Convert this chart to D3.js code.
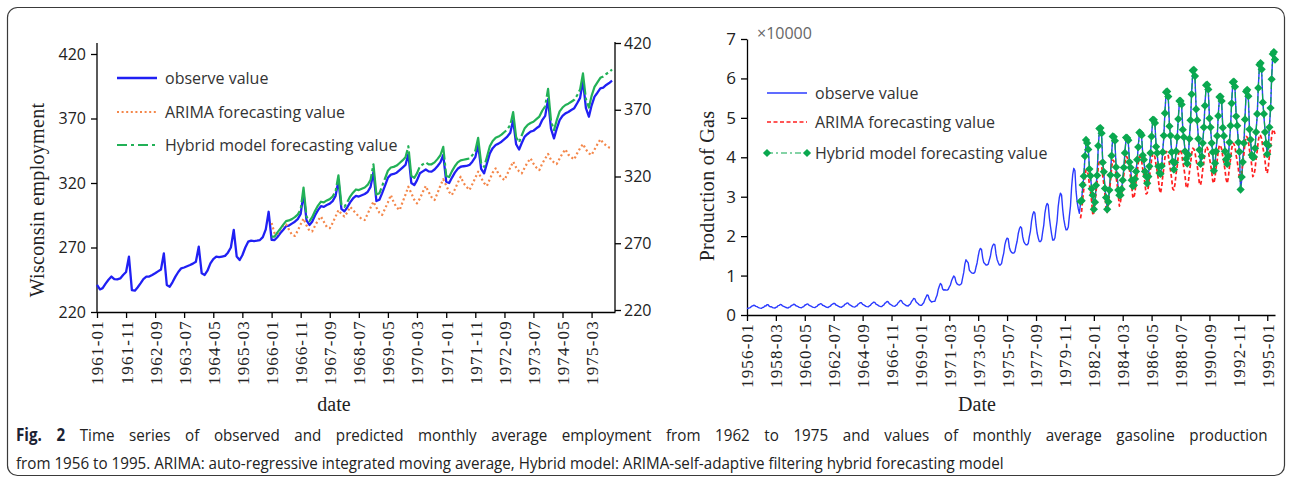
<!DOCTYPE html>
<html>
<head>
<meta charset="utf-8">
<script src="https://cdn.jsdelivr.net/npm/d3@7"></script>
<style>
  body { margin: 0; background: #fff; }
  svg { display: block; }
</style>
</head>
<body>
<svg id="fig" width="1292" height="482"></svg>
<script>
// ---- Wisconsin employment (monthly, from 1961-01) ----
const empStart = "1961-01";
const empObserved = [
  241, 237.5, 238.5, 242, 245, 247.5, 245.5, 245.3, 246, 248.7, 251, 262.9,
  237, 236.5, 239, 242.2, 245.5, 247.4, 247.5, 248.7, 250, 251.5, 253, 265.4,
  241, 239.6, 243, 247.4, 251, 253.9, 254.5, 255.5, 256.4, 257.5, 259, 270.6,
  250, 248.7, 252, 257.7, 261, 262.9, 262.5, 263, 263.5, 266, 270, 283.6,
  263, 260.3, 264, 270, 274.5, 275.3, 275, 275.3, 275.8, 278, 284, 297.7,
  276, 275.8, 278, 281, 283.6, 286.5, 287, 288.5, 290, 292, 296, 312,
  291, 287.5, 290, 295, 299, 302, 301.5, 303, 304, 306, 310, 322,
  300, 298, 301, 305, 308, 310, 309.5, 310.5, 311.5, 313, 317, 328.5,
  306, 307, 312, 318, 324, 326.5, 327, 328, 330, 332, 334, 342.5,
  320, 318.4, 322, 327.5, 329, 330.5, 329, 328.8, 330.5, 333, 336, 341.7,
  321, 320, 324, 328, 331, 332.6, 333, 333.2, 334, 336.5, 340, 349.5,
  331, 327.5, 335, 343, 347, 349.5, 350.5, 352, 354, 356, 359, 368.8,
  350, 346, 351, 356, 358, 359.8, 360.5, 362.4, 364, 368.8, 372, 384.9,
  362, 354.6, 362, 368.8, 372, 374, 375, 376.6, 378, 381.8, 386, 399.3,
  378, 371.4, 380, 387, 390, 393.4, 394, 396, 397.5, 399.3
];
const empFcStart = "1966-01";
const empArima = [
  289, 281, 280, 284, 287, 288, 284, 280, 279, 283, 288, 292.5,
  287, 283, 282.5, 287, 291, 294, 290, 286, 285, 289, 294, 299,
  296, 294, 297, 301.5, 299, 296.5, 294, 292, 291.3, 296, 301, 305.5,
  301, 297, 295.2, 300, 305, 310.7, 305, 301, 299, 305, 311, 317.1,
  312, 307, 304.2, 308, 313, 317.7, 313, 309, 306.8, 312, 318, 322.9,
  318, 313, 310.7, 315, 320, 324.9, 320, 317, 314.6, 319, 324, 328.8,
  324, 320, 317.7, 323, 328, 331.4, 327, 324, 322.3, 327, 332, 336.5,
  332, 329, 327.5, 332, 336, 339.1, 335, 332, 330, 335, 339, 342.5,
  338, 336, 334.7, 339, 343, 346.1, 342, 340, 338.3, 343, 347, 350.2,
  346, 343, 341.7, 346, 350, 353.9, 351, 349, 347.5, 346.9
];
const empHybrid = [
  278.5, 278.5, 281.5, 284.5, 287.5, 290.5, 291, 292, 293.5, 295.5, 299.5, 316.5,
  294, 290.5, 293.5, 298.5, 302.5, 305.5, 305, 306.5, 307.5, 309.5, 313.5, 326,
  303.5, 301.5, 305, 309.5, 312.5, 315, 314.5, 315.5, 316.5, 318.5, 322.5, 334.5,
  311, 312, 317.5, 323.5, 329.5, 332, 332.5, 333.5, 335.5, 337.5, 340, 348.5,
  325.5, 324, 327.5, 333, 334.5, 336, 334.5, 334.5, 336, 338.5, 341.5, 348,
  325.5, 324.6, 329, 333, 336, 337.5, 338, 338.5, 339, 341.5, 345, 355,
  335.5, 332.5, 340, 348.5, 352.5, 355, 356, 357.5, 359.5, 361.5, 365, 375,
  355.5, 351.5, 357, 362.5, 365, 366.5, 367.5, 369.5, 371.5, 376, 379.5, 393,
  368, 361, 368.5, 375.5, 378.5, 380.5, 381.5, 383, 384.5, 388, 392.5, 405,
  385, 378.5, 387.5, 394.5, 398, 401.5, 402.5, 404.5, 406, 408
];
const empXTicks = ["1961-01", "1961-11", "1962-09", "1963-07", "1964-05", "1965-03",
  "1966-01", "1966-11", "1967-09", "1968-07", "1969-05", "1970-03", "1971-01",
  "1971-11", "1972-09", "1973-07", "1974-05", "1975-03"];
const empYTicks = [220, 270, 320, 370, 420];

// ---- Gas production (monthly, from 1956-01) ----
const gasStart = "1956-01";
const gasObserved = [
  1709, 1646, 1794, 1878, 2173, 2321, 2468, 2416, 2184, 2121, 1962, 1825,
  1751, 1688, 1920, 1941, 2311, 2279, 2638, 2601, 2226, 2080, 2097, 1875,
  1800, 1760, 1950, 2030, 2380, 2450, 2660, 2620, 2300, 2190, 2080, 1900,
  1830, 1790, 1990, 2080, 2420, 2520, 2720, 2680, 2350, 2240, 2120, 1950,
  1870, 1830, 2030, 2120, 2470, 2600, 2800, 2760, 2420, 2300, 2170, 2000,
  1920, 1870, 2080, 2180, 2540, 2660, 2870, 2830, 2470, 2360, 2220, 2040,
  1960, 1910, 2130, 2230, 2600, 2750, 2960, 2910, 2540, 2420, 2270, 2090,
  2010, 1960, 2180, 2290, 2680, 2830, 3040, 3000, 2610, 2480, 2330, 2140,
  2060, 2010, 2240, 2350, 2760, 2920, 3150, 3100, 2690, 2550, 2390, 2190,
  2110, 2060, 2300, 2420, 2850, 3020, 3260, 3200, 2770, 2620, 2450, 2250,
  2170, 2120, 2370, 2500, 2950, 3150, 3420, 3350, 2880, 2710, 2530, 2320,
  2240, 2200, 2460, 2610, 3110, 3360, 3700, 3620, 3060, 2850, 2650, 2420,
  2330, 2290, 2580, 2790, 3400, 3780, 4200, 4100, 3380, 3090, 2840, 2560,
  2480, 2450, 2800, 3100, 3900, 4500, 5100, 4950, 4000, 3600, 3300, 3400,
  3450, 3500, 4300, 5000, 6400, 7300, 8000, 7700, 6600, 6300, 6400, 6300,
  6300, 6500, 7100, 7600, 8600, 9300, 9900, 9600, 8400, 7900, 7700, 7600,
  7700, 8000, 9400, 10800, 12900, 14000, 13600, 13200, 11400, 11000, 10700, 10600,
  10600, 10900, 12100, 13200, 14900, 16300, 16900, 16600, 14500, 13300, 13000, 12700,
  12700, 12900, 13900, 14900, 16600, 17600, 18000, 17800, 15500, 14100, 13300, 12700,
  12700, 13100, 14500, 15700, 17800, 18900, 19500, 19300, 17200, 16300, 15900, 15700,
  15700, 16100, 17500, 18700, 20600, 21800, 22400, 22100, 19800, 18600, 18100, 17800,
  17800, 18200, 19900, 21300, 23800, 25400, 26200, 25800, 22900, 20800, 19500, 18600,
  18600, 19100, 21000, 22800, 25800, 27500, 28300, 27900, 24700, 22500, 20500, 19000,
  19000, 19600, 21800, 23900, 27500, 29800, 30900, 30400, 26800, 24300, 22700, 21600,
  21600, 22300, 25000, 27600, 32300, 35600, 37200, 36600, 31400, 28600, 26900, 25800,
  28300, 29200, 32400, 34900, 39900, 43200, 44000, 42400, 37400, 34900, 32400, 29900,
  27100, 28200, 32500, 35800, 42400, 46700, 47800, 45600, 39100, 35800, 32500, 29300,
  27200, 28200, 32100, 35000, 40800, 44700, 45700, 43700, 37900, 35000, 32100, 30000,
  30800, 31500, 34600, 36900, 41500, 44500, 45300, 43800, 39200, 36900, 34600, 32300,
  33300, 34000, 36800, 38900, 43000, 45800, 46500, 45100, 40900, 38900, 36800, 34700,
  33800, 34700, 38100, 40600, 45700, 49100, 49900, 48200, 43100, 40600, 38100, 35500,
  36200, 37300, 41700, 45000, 51600, 56000, 57100, 54900, 48300, 45000, 41700, 38400,
  37300, 38200, 41900, 44600, 50100, 53800, 54700, 52900, 47400, 44600, 41900, 39100,
  38800, 40100, 45100, 48900, 56400, 61400, 62600, 60100, 52600, 48900, 45100, 41400,
  38700, 39700, 44000, 47100, 53500, 57700, 58800, 56700, 50300, 47100, 44000, 40800,
  37000, 38000, 41900, 44900, 50900, 54800, 55800, 53800, 47900, 44900, 41900, 39000,
  38700, 39800, 44200, 47500, 54100, 58500, 59600, 57400, 50800, 47500, 44200, 40900,
  31300, 34500, 39200, 43100, 50000, 56200, 57500, 55000, 47500, 44000, 41000, 39500,
  40500, 41800, 46800, 50500, 58000, 63000, 64300, 61800, 54300, 50500, 46800, 43000,
  41200, 42500, 48000, 52000, 60200, 65700, 67100, 64300
];
const gasFcStart = "1981-01";
const gasArima = [
  24500, 26300, 29400, 31900, 35000, 36800, 36600, 35600, 33100, 31300, 28800, 25700,
  25800, 27800, 31200, 33900, 37300, 39300, 39000, 38000, 35300, 33200, 30500, 27200,
  26000, 27900, 31300, 33800, 37200, 39300, 39100, 37900, 35200, 33100, 30400, 27600,
  28800, 30500, 33400, 35600, 38500, 40200, 40000, 39100, 36800, 35100, 32800, 30000,
  29600, 31200, 33800, 36000, 38600, 40200, 40000, 39100, 37000, 35400, 33300, 30700,
  30900, 32400, 34900, 37000, 39500, 41000, 40800, 40000, 38000, 36500, 34400, 31900,
  30900, 32500, 35100, 37300, 39900, 41500, 41300, 40400, 38300, 36700, 34600, 32000,
  31700, 33200, 35800, 37800, 40400, 41900, 41700, 40900, 38800, 37300, 35300, 32700,
  32200, 33700, 36200, 38300, 40800, 42300, 42100, 41300, 39300, 37800, 35700, 33200,
  33000, 34500, 36900, 38800, 41200, 42700, 42500, 41700, 39800, 38300, 36400, 34000,
  33400, 34900, 37300, 39200, 41600, 43100, 42900, 42100, 40200, 38700, 36800, 34400,
  33400, 34900, 37500, 39500, 42100, 43600, 43400, 42600, 40500, 39000, 37000, 34400,
  34000, 35700, 38500, 40800, 43600, 45300, 45100, 44200, 41900, 40200, 38000, 35100,
  35500, 37000, 39600, 41600, 44200, 45700, 45500, 44700, 42600, 41100, 39100, 36500,
  36000, 37700, 40400, 42600, 45400, 47000, 46800, 45900
];
const gasHybrid = [
  28800, 29000, 33000, 35200, 40300, 44400, 43600, 42000, 37000, 35300, 32000, 30400,
  26800, 28600, 32900, 35400, 42900, 47300, 47400, 46100, 38700, 36300, 32100, 29800,
  26800, 28700, 31700, 35500, 40400, 45300, 45200, 44200, 37500, 35400, 31700, 30400,
  30400, 31900, 34200, 37400, 41100, 45000, 44900, 44300, 38800, 37400, 34200, 32700,
  32900, 34500, 36400, 39400, 42600, 46300, 46100, 45600, 40500, 39400, 36400, 35200,
  33400, 35100, 37700, 41100, 45300, 49500, 49500, 48700, 42700, 41100, 37700, 36000,
  35800, 37800, 41300, 45500, 51200, 56500, 56700, 55400, 47900, 45500, 41300, 38900,
  36900, 38700, 41500, 45100, 49700, 54300, 54300, 53400, 47000, 45100, 41500, 39600,
  38400, 40600, 44700, 49400, 56000, 62000, 62200, 60600, 52200, 49400, 44700, 41900,
  38300, 40200, 43600, 47600, 53100, 58300, 58400, 57200, 49900, 47600, 43600, 41300,
  36600, 38500, 41500, 45400, 50500, 55300, 55400, 54300, 47500, 45400, 41500, 39500,
  38300, 40300, 43800, 48000, 53700, 59000, 59200, 57900, 50400, 48000, 43800, 41400,
  31800, 35000, 38800, 43600, 49600, 56700, 57100, 55500, 47100, 44500, 40600, 40000,
  40100, 42300, 46400, 51000, 57600, 63500, 63900, 62300, 53900, 51000, 46400, 43500,
  40800, 43000, 47600, 52500, 59800, 66200, 66700, 64800
];
const gasXTicks = ["1956-01", "1958-03", "1960-05", "1962-07", "1964-09", "1966-11",
  "1969-01", "1971-03", "1973-05", "1975-07", "1977-09", "1979-11", "1982-01",
  "1984-03", "1986-05", "1988-07", "1990-09", "1992-11", "1995-01"];
const gasYTicks = [0, 10000, 20000, 30000, 40000, 50000, 60000, 70000];

const captionLabel = "Fig. 2";
const captionLine1 = "Time series of observed and predicted monthly average employment from 1962 to 1975 and values of monthly average gasoline production";
const captionLine2 = "from 1956 to 1995. ARIMA: auto-regressive integrated moving average, Hybrid model: ARIMA-self-adaptive filtering hybrid forecasting model";

const parse = d3.timeParse("%Y-%m");
const fmt = d3.timeFormat("%Y-%m");

function monthly(start, values) {
  const t0 = parse(start);
  return values.map((v, i) => ({ date: d3.timeMonth.offset(t0, i), value: v }));
}

const svg = d3.select("#fig");
const SANS = "'Open Sans', 'DejaVu Sans', sans-serif";
const SERIF = "'Liberation Serif', 'DejaVu Serif', serif";

// outer frame
svg.append("rect")
  .attr("x", 7.5).attr("y", 7.5)
  .attr("width", 1277).attr("height", 468)
  .attr("rx", 10)
  .attr("fill", "none").attr("stroke", "#3a3a3a").attr("stroke-width", 1.2);

function styleAxis(g, family, size) {
  g.attr("font-family", family).attr("font-size", size);
  g.selectAll("path, line").attr("stroke", "#000").attr("stroke-width", 1.3);
  g.selectAll("text").attr("fill", "#222");
}

function rotateXLabels(g) {
  g.selectAll(".tick text")
    .attr("transform", "rotate(-90)")
    .attr("text-anchor", "end")
    .attr("x", -8).attr("y", 0).attr("dy", "0.35em")
    .attr("letter-spacing", 1.2);
}

// ================= Left chart: Wisconsin employment =================
const empObs = monthly(empStart, empObserved);
const empAr = monthly(empFcStart, empArima);
const empHy = monthly(empFcStart, empHybrid);

const xE = d3.scaleTime().domain([parse("1961-01"), parse("1975-11")]).range([97, 615]);
const yE = d3.scaleLinear().domain([220, 420]).range([312, 54]);
const yE2 = d3.scaleLinear().domain([220, 420]).range([310, 43]);

const gL = svg.append("g");

gL.append("g").attr("transform", "translate(0,312)")
  .call(d3.axisBottom(xE).tickValues(empXTicks.map(parse)).tickFormat(fmt).tickSize(6).tickSizeOuter(0))
  .call(g => styleAxis(g, SERIF, 17))
  .call(rotateXLabels);

gL.append("g").attr("transform", "translate(97,0)")
  .call(d3.axisLeft(yE).tickValues(empYTicks).tickSize(6).tickSizeOuter(0).tickPadding(5))
  .call(g => styleAxis(g, SANS, 16))
  .call(g => g.select(".domain").attr("d", "M0,43V312"));

gL.append("g").attr("transform", "translate(615,0)")
  .call(d3.axisRight(yE2).tickValues(empYTicks).tickSize(6).tickSizeOuter(0).tickPadding(3))
  .call(g => styleAxis(g, SANS, 16))
  .call(g => g.select(".domain").attr("d", "M0,42V312"));

const lineE = d3.line().x(d => xE(d.date)).y(d => yE(d.value));

const empStyles = [
  { label: "observe value", data: empObs, color: "#2020f4", dash: null, legDash: null, width: 2.3 },
  { label: "ARIMA forecasting value", data: empAr, color: "#f4874a", dash: "2,2.6", legDash: "2,2.6", width: 2.2 },
  { label: "Hybrid model forecasting value", data: empHy, color: "#22b157", dash: "40,3,3,3", legDash: "10,4,3,4", width: 2.2 }
];

empStyles.forEach(s => {
  gL.append("path").datum(s.data)
    .attr("fill", "none").attr("stroke", s.color)
    .attr("stroke-width", s.width)
    .attr("stroke-dasharray", s.dash)
    .attr("stroke-linejoin", "round")
    .attr("d", lineE);
});

const legYE = [78, 112, 145];
empStyles.forEach((s, i) => {
  gL.append("line")
    .attr("x1", 117).attr("x2", 157).attr("y1", legYE[i]).attr("y2", legYE[i])
    .attr("stroke", s.color).attr("stroke-width", s.width)
    .attr("stroke-dasharray", s.legDash);
  gL.append("text")
    .attr("x", 165).attr("y", legYE[i]).attr("dy", "0.35em")
    .attr("font-family", SANS).attr("font-size", 16).attr("fill", "#333")
    .text(s.label);
});

gL.append("text")
  .attr("transform", "translate(44,200) rotate(-90)")
  .attr("text-anchor", "middle")
  .attr("font-family", SERIF).attr("font-size", 20).attr("fill", "#222")
  .attr("letter-spacing", 0.3)
  .text("Wisconsin employment");

gL.append("text")
  .attr("x", 334).attr("y", 411)
  .attr("text-anchor", "middle")
  .attr("font-family", SERIF).attr("font-size", 20).attr("fill", "#222")
  .text("date");

// ================= Right chart: gas production =================
const gasObs = monthly(gasStart, gasObserved);
const gasAr = monthly(gasFcStart, gasArima);
const gasHy = monthly(gasFcStart, gasHybrid);

const xG = d3.scaleTime().domain([parse("1956-01"), parse("1995-08")]).range([747, 1275]);
const yG = d3.scaleLinear().domain([0, 70000]).range([315, 39]);

const gR = svg.append("g");

gR.append("g").attr("transform", "translate(0,315)")
  .call(d3.axisBottom(xG).tickValues(gasXTicks.map(parse)).tickFormat(fmt).tickSize(6).tickSizeOuter(0))
  .call(g => styleAxis(g, SERIF, 17))
  .call(rotateXLabels);

gR.append("g").attr("transform", "translate(747,0)")
  .call(d3.axisLeft(yG).tickValues(gasYTicks).tickFormat(d => d / 10000).tickSize(6).tickSizeOuter(0).tickPadding(5))
  .call(g => styleAxis(g, SANS, 17));

gR.append("text")
  .attr("x", 757).attr("y", 39)
  .attr("font-family", SANS).attr("font-size", 16).attr("fill", "#666")
  .text("\u00d710000");

const lineG = d3.line().x(d => xG(d.date)).y(d => yG(d.value));

const gasStyles = [
  { label: "observe value", data: gasObs, color: "#2b3bff", dash: null, width: 1.4 },
  { label: "ARIMA forecasting value", data: gasAr, color: "#ff1f1f", dash: "4,2.5", width: 1.7 },
  { label: "Hybrid model forecasting value", data: gasHy, color: "#0aa84f", dash: "6,3,2,3", width: 1.2 }
];

gasStyles.forEach(s => {
  gR.append("path").datum(s.data)
    .attr("fill", "none").attr("stroke", s.color)
    .attr("stroke-width", s.width)
    .attr("stroke-dasharray", s.dash)
    .attr("stroke-linejoin", "round")
    .attr("d", lineG);
});

const diamond = d3.symbol().type(d3.symbolSquare).size(34);
gR.append("g").selectAll("path")
  .data(gasHy)
  .join("path")
  .attr("d", diamond)
  .attr("transform", d => `translate(${xG(d.date)},${yG(d.value)}) rotate(45)`)
  .attr("fill", "#0aa84f");

const legYG = [93, 122, 153];
gasStyles.forEach((s, i) => {
  gR.append("line")
    .attr("x1", 767).attr("x2", 807).attr("y1", legYG[i]).attr("y2", legYG[i])
    .attr("stroke", s.color).attr("stroke-width", s.width)
    .attr("stroke-dasharray", s.dash);
  gR.append("text")
    .attr("x", 815).attr("y", legYG[i]).attr("dy", "0.35em")
    .attr("font-family", SANS).attr("font-size", 16).attr("fill", "#333")
    .text(s.label);
});
[767, 807].forEach(x => {
  gR.append("path").attr("d", diamond)
    .attr("transform", `translate(${x},${legYG[2]}) rotate(45)`)
    .attr("fill", "#0aa84f");
});

gR.append("text")
  .attr("transform", "translate(714,186) rotate(-90)")
  .attr("text-anchor", "middle")
  .attr("font-family", SERIF).attr("font-size", 20).attr("fill", "#222")
  .attr("letter-spacing", 0.3)
  .text("Production of Gas");

gR.append("text")
  .attr("x", 977).attr("y", 411)
  .attr("text-anchor", "middle")
  .attr("font-family", SERIF).attr("font-size", 20).attr("fill", "#222")
  .text("Date");

// ================= Caption (justified first line, condensed type) =================
const capX = 16, capRight = 1268, cap2Right = 1004;

const cap2 = svg.append("text")
  .attr("font-family", SANS).attr("font-size", 17).attr("fill", "#222")
  .text(captionLine2);
const squeeze = (cap2Right - capX) / cap2.node().getComputedTextLength();
cap2.attr("transform", `translate(${capX},469) scale(${squeeze},1)`);

const cap1 = svg.append("text")
  .attr("font-family", SANS).attr("font-size", 17).attr("fill", "#222");
cap1.append("tspan").attr("font-weight", "bold").attr("fill", "#1b2233").text(captionLabel);
cap1.append("tspan").text(" " + captionLine1);
const nat1 = cap1.node().getComputedTextLength();
const gaps = (captionLabel + " " + captionLine1).split(" ").length - 1;
cap1.attr("word-spacing", ((capRight - capX) / squeeze - nat1) / gaps)
  .attr("transform", `translate(${capX},441) scale(${squeeze},1)`);
</script>
</body>
</html>
